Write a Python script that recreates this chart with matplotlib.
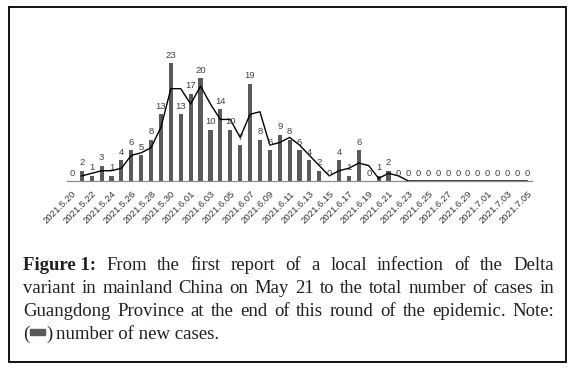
import numpy as np
import pandas as pd
import matplotlib
matplotlib.use("Agg")
import matplotlib.pyplot as plt
from matplotlib.patches import Rectangle

# daily new cases, 2021.5.20 .. 2021.7.05
cases = [0, 2, 1, 3, 1, 4, 6, 5, 8, 13,
         23, 13,
         17, 20, 10, 14, 10, 7, 19, 8, 6, 9,
         8, 6, 4, 2, 0, 4, 1, 6, 0, 1,
         2, 0, 0, 0, 0, 0, 0, 0, 0, 0,
         0, 0, 0, 0, 0]

tick_labels = ["2021.5.20", "2021.5.22", "2021.5.24", "2021.5.26", "2021.5.28",
               "2021.5.30", "2021.6.01", "2021.6.03", "2021.6.05", "2021.6.07",
               "2021.6.09", "2021.6.11", "2021.6.13", "2021.6.15", "2021.6.17",
               "2021.6.19", "2021.6.21", "2021.6.23", "2021.6.25", "2021.6.27",
               "2021.6.29", "2021.7.01", "2021.7.03", "2021.7.05"]

caption_lines = [
    ["Figure 1:", "From", "the", "first", "report", "of", "a", "local", "infection",
     "of", "the", "Delta"],
    "variant in mainland China on May 21 to the total number of cases in".split(),
    "Guangdong Province at the end of this round of the epidemic. Note:".split(),
]
caption_last = "number of new cases."

W, H = 575, 369
fig = plt.figure(figsize=(W / 100, H / 100), dpi=100)


def fx(px):
    return px / W


def fy(py):
    return 1 - py / H


# outer frame
fig.patches.append(Rectangle((fx(9), fy(362)), fx(566) - fx(9), fy(7) - fy(362),
                             transform=fig.transFigure, fill=False,
                             edgecolor="black", linewidth=1.3))

# chart
ax = fig.add_axes([fx(67), fy(181), fx(532) - fx(67), fy(42.5) - fy(181)])
x = np.arange(len(cases))
ax.bar(x, cases, width=0.42, color="#5a5a5a", zorder=2)

trend = pd.Series(cases).rolling(2).mean()
ax.plot(x, trend, color="black", linewidth=1.0, zorder=3)

for i, v in enumerate(cases):
    ax.annotate(str(v), (i, v), xytext=(0, 2.5), textcoords="offset points",
                ha="center", va="bottom", fontsize=6.8, color="#404040",
                family="Liberation Sans", zorder=4)

ax.set_xlim(-0.5, len(cases) - 0.5)
ax.set_ylim(0, 27)
for s in ["top", "right", "left"]:
    ax.spines[s].set_visible(False)
ax.spines["bottom"].set_color("#8c8c8c")
ax.spines["bottom"].set_linewidth(0.9)
ax.set_yticks([])
ax.set_xticks(x[::2])
ax.set_xticklabels(tick_labels, rotation=45, ha="right", va="top",
                   rotation_mode="anchor", fontsize=6.8,
                   family="Liberation Sans", color="#333333")
ax.tick_params(axis="x", length=0, pad=6)

# justified caption
renderer = fig.canvas.get_renderer()
left, right = 23, 554
base_y = [270, 293, 316]
serif = "Liberation Serif"
fs = 13.5
for line, by in zip(caption_lines, base_y):
    texts = []
    for k, word in enumerate(line):
        weight = "bold" if word == "Figure 1:" else "normal"
        t = fig.text(0, fy(by), word, fontsize=fs, family=serif, weight=weight,
                     color="#231f20", va="baseline", ha="left")
        texts.append(t)
    widths = [t.get_window_extent(renderer).width for t in texts]
    gap = (right - left - sum(widths)) / (len(texts) - 1)
    pos = left
    for t, w in zip(texts, widths):
        t.set_x(fx(pos))
        pos += w + gap

# last line with the legend swatch
by = 339
t1 = fig.text(fx(left), fy(by), "(", fontsize=fs, family=serif, color="#231f20",
              va="baseline")
w1 = t1.get_window_extent(renderer).width
fig.patches.append(Rectangle((fx(left + w1 + 1), fy(by - 4)), fx(15), fy(0) - fy(6),
                             transform=fig.transFigure, color="#5a5a5a"))
t2 = fig.text(fx(left + w1 + 17), fy(by), ")", fontsize=fs, family=serif,
              color="#231f20", va="baseline")
w2 = t2.get_window_extent(renderer).width
fig.text(fx(left + w1 + 17 + w2 + 4), fy(by), caption_last, fontsize=fs,
         family=serif, color="#231f20", va="baseline")

fig.savefig("out.png", dpi=100)
